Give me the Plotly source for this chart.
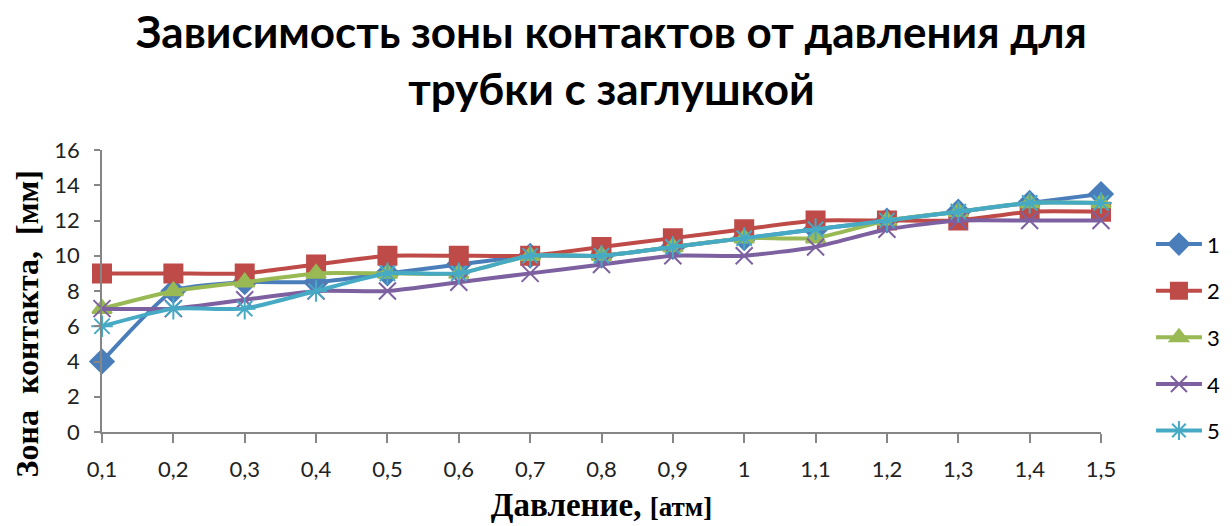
import plotly.graph_objects as go

pressure = ["0,1", "0,2", "0,3", "0,4", "0,5", "0,6", "0,7", "0,8", "0,9", "1", "1,1", "1,2", "1,3", "1,4", "1,5"]
series_names = ["1", "2", "3", "4", "5"]
s1 = [4, 8, 8.5, 8.5, 9, 9.5, 10, 10, 10.5, 11, 11.5, 12, 12.5, 13, 13.5]
s2 = [9, 9, 9, 9.5, 10, 10, 10, 10.5, 11, 11.5, 12, 12, 12, 12.5, 12.5]
s3 = [7, 8, 8.5, 9, 9, 9, 10, 10, 10.5, 11, 11, 12, 12.5, 13, 13]
s4 = [7, 7, 7.5, 8, 8, 8.5, 9, 9.5, 10, 10, 10.5, 11.5, 12, 12, 12]
s5 = [6, 7, 7, 8, 9, 9, 10, 10, 10.5, 11, 11.5, 12, 12.5, 13, 13]
y_ticks = [0, 2, 4, 6, 8, 10, 12, 14, 16]

values = [s1, s2, s3, s4, s5]
colors = ["#4A7EBB", "#BE4B48", "#98B954", "#7D60A0", "#46AAC5"]
symbols = ["diamond", "square", "triangle-up", "x-thin-open", "asterisk-open"]
sizes = [18, 18, 17, 17, 18]

fig = go.Figure()
for name, vals, c, sym, sz in zip(series_names, values, colors, symbols, sizes):
    fig.add_trace(go.Scatter(
        x=pressure, y=vals, name=name, mode="lines+markers",
        line=dict(color=c, width=4, shape="spline", smoothing=0.5),
        marker=dict(symbol=sym, size=sz, color=c, line=dict(color=c, width=2)),
        cliponaxis=False, legendgroup=name,
    ))

fig.add_annotation(
    text="<b>Зона  контакта,  [мм]</b>", textangle=-90,
    xref="paper", yref="paper", x=-0.0751, y=0.385,
    xanchor="center", yanchor="middle", showarrow=False,
    font=dict(family="Liberation Serif", size=32, color="black"),
)

fig.update_layout(
    width=1224, height=518,
    paper_bgcolor="white", plot_bgcolor="white",
    margin=dict(l=94, r=131, t=142, b=94, autoexpand=False),
    title=dict(
        text="Зависимость зоны контактов от давления для<br>трубки с заглушкой",
        x=0.493, xanchor="center", y=0.923, yanchor="top",
        font=dict(family="Lato", size=44, color="black", weight="bold"),
    ),
    xaxis=dict(
        type="category", range=[0, 14], automargin=False,
        showline=True, linecolor="#868686", linewidth=1.5,
        ticks="outside", ticklen=9, tickcolor="#868686", tickwidth=1.5,
        ticklabelstandoff=8,
        tickfont=dict(family="Lato", size=22, color="#222"),
        showgrid=False, zeroline=False,
        title=dict(
            text="<b>Давление, <span style='font-size:27px'>[атм]</span></b>",
            font=dict(family="Liberation Serif", size=33, color="black"),
            standoff=12,
        ),
    ),
    yaxis=dict(
        range=[0, 16], tickvals=y_ticks, automargin=False,
        showline=True, linecolor="#868686", linewidth=1.5,
        ticks="outside", ticklen=6, tickcolor="#868686", tickwidth=1.5,
        ticklabelstandoff=10,
        tickfont=dict(family="Lato", size=22, color="#222"),
        showgrid=False, zeroline=False,
    ),
    legend=dict(
        x=1.05, xanchor="left", y=0.74, yanchor="top",
        font=dict(family="Lato", size=22, color="black"),
        traceorder="grouped", tracegroupgap=15,
        itemwidth=46,
        bgcolor="rgba(0,0,0,0)",
    ),
)

fig.write_html("out.html")
